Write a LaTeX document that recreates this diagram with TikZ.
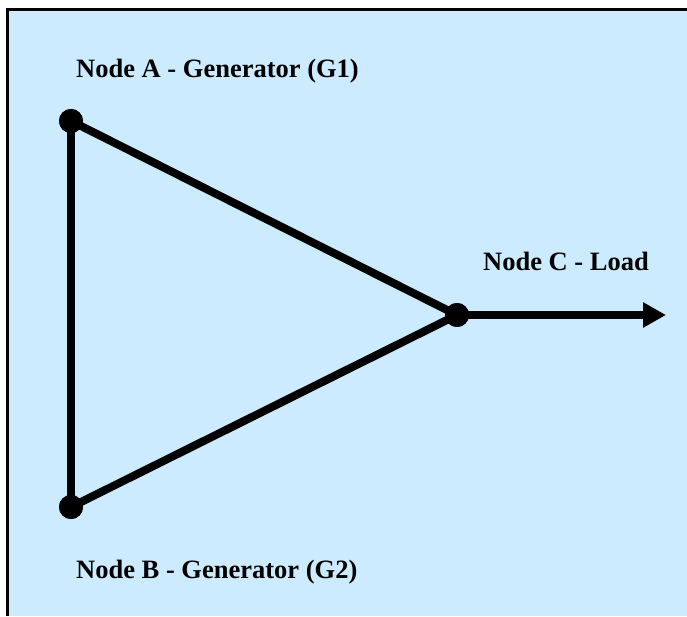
\documentclass[tikz,border=0pt]{standalone}
\usepackage{fontspec}
\setmainfont{Liberation Serif}
\usetikzlibrary{arrows.meta}
\definecolor{bgblue}{RGB}{204,235,255}
\begin{document}
\begin{tikzpicture}[x=1pt,y=1pt,
  dot/.style={circle,fill=black,inner sep=0pt,minimum size=24pt},
  wire/.style={line width=8pt,black},
  lbl/.style={anchor=base west,inner sep=0pt,font=\fontsize{26.5}{30}\selectfont\bfseries}]
\useasboundingbox (0,0) rectangle (687,616);
\fill[white] (0,0) rectangle (687,616);
\fill[bgblue] (7,0) rectangle (687,606.5);
\draw[line width=3pt,black] (7,0) -- (7,606.5) -- (687,606.5);
\node[dot] (A) at (71,495) {};
\node[dot] (B) at (71,109) {};
\node[dot] (C) at (457,301) {};
\coordinate (E) at (666,301);
\draw[wire] (A.center) -- (B.center);
\draw[wire] (A.center) -- (C.center);
\draw[wire] (B.center) -- (C.center);
\draw[wire,-{Triangle[length=23pt,width=24pt]}] (C.center) -- (E);
\node[dot] at (A) {};
\node[dot] at (B) {};
\node[dot] at (C) {};
\node[lbl] (LA) at (76,538) {Node A - Generator (G1)};
\node[lbl] (LC) at (483,345) {Node C - Load};
\node[lbl] (LB) at (76,38) {Node B - Generator (G2)};
\end{tikzpicture}
\end{document}
